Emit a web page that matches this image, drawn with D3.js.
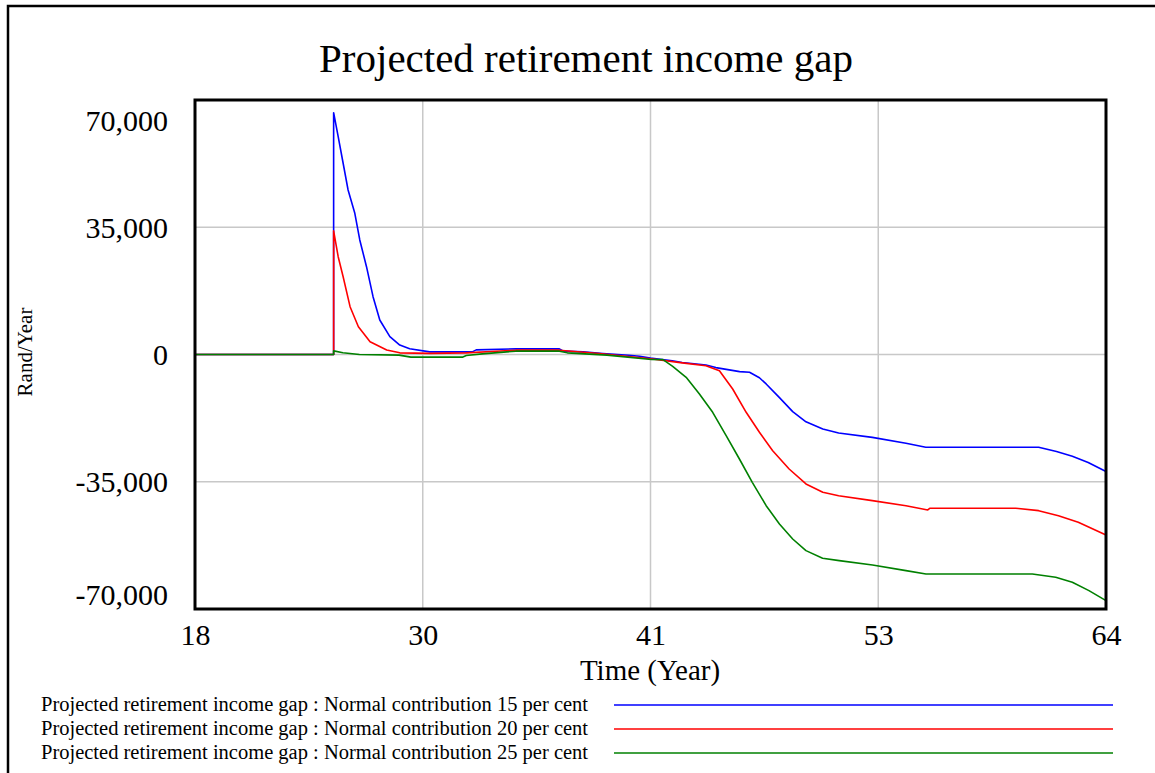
<!DOCTYPE html>
<html>
<head>
<meta charset="utf-8">
<script src="https://cdn.jsdelivr.net/npm/d3@7"></script>
<style>
  html, body { margin: 0; padding: 0; background: #fff; }
  svg { display: block; }
  text { font-family: "Liberation Serif", "Times New Roman", serif; fill: #000; }
</style>
</head>
<body>
<svg id="chart" width="1155" height="773"></svg>
<script>
// Projected retirement income gap, Rand/Year, by age (Time in years)

const seriesNames = [
  "Projected retirement income gap : Normal contribution 15 per cent",
  "Projected retirement income gap : Normal contribution 20 per cent",
  "Projected retirement income gap : Normal contribution 25 per cent"
];
const seriesColors = ["#0000ff", "#ff0000", "#008000"];

const time15 = [18, 25, 25, 25.23, 25.48, 25.73, 26.07, 26.32, 26.66, 26.99, 27.33, 27.84, 28.34, 28.84, 29.85, 32.0, 32.2, 34.2, 36.4, 36.6, 37.6, 38.6, 39.9, 40.45, 41.0, 42.1, 42.6, 43.8, 44.3, 45.5, 46.0, 46.5, 46.84, 47.5, 48.18, 48.85, 49.7, 50.5, 52.2, 53.9, 54.9, 60.6, 61.5, 62.3, 63.1, 64];
const gap15  = [0, 0, 66500, 59900, 52600, 45250, 38840, 31500, 24150, 15900, 9490, 4900, 2600, 1560, 730, 730, 1280, 1560, 1560, 915, 730, 275, -190, -500, -1000, -1700, -2200, -2900, -3600, -4700, -4900, -6400, -8100, -11800, -15700, -18500, -20500, -21600, -22800, -24400, -25500, -25500, -26700, -28000, -29700, -32200];

const time20 = [18, 25, 25, 25.23, 25.48, 25.83, 26.25, 26.84, 27.68, 28.34, 29.85, 31.7, 34.2, 36.4, 38.4, 41.0, 42.6, 43.8, 44.48, 45.15, 45.83, 46.5, 47.17, 48.0, 48.85, 49.7, 50.5, 52.2, 53.9, 55.0, 55.1, 59.45, 60.6, 61.6, 62.6, 64];
const gap20  = [0, 0, 34000, 26900, 21400, 13150, 7650, 3520, 1240, 460, 300, 460, 1190, 1190, 275, -1190, -2300, -3100, -4450, -9490, -15900, -21400, -26450, -31490, -35610, -37900, -38830, -40200, -41580, -42760, -42300, -42300, -42950, -44330, -46150, -49640];

const time25 = [18, 25, 25, 25.47, 26.3, 28.3, 28.9, 31.5, 31.7, 32.5, 34.2, 36.4, 36.8, 38.8, 41.05, 41.63, 42.12, 42.8, 43.47, 44.14, 44.82, 45.49, 46.14, 46.84, 47.51, 48.18, 48.85, 49.69, 50.53, 52.21, 53.9, 54.91, 60.28, 61.46, 62.3, 63.14, 64];
const gap25  = [0, 0, 1000, 500, 0, -180, -730, -730, -275, 180, 915, 915, 460, -180, -1370, -1420, -3250, -6270, -10860, -15900, -22320, -28740, -35150, -41580, -46610, -50740, -53950, -56050, -56700, -57890, -59450, -60360, -60360, -61270, -62650, -64950, -67700];

const xTickValues = [18, 29.5, 41, 52.5, 64];
const xTickLabels = ["18", "30", "41", "53", "64"];
const yTickValues = [70000, 35000, 0, -35000, -70000];
const yTickLabels = ["70,000", "35,000", "0", "-35,000", "-70,000"];

const series = [
  { name: seriesNames[0], color: seriesColors[0], t: time15, v: gap15 },
  { name: seriesNames[1], color: seriesColors[1], t: time20, v: gap20 },
  { name: seriesNames[2], color: seriesColors[2], t: time25, v: gap25 }
];

const svg = d3.select("#chart");

// Outer frame (left and top edges visible)
svg.append("path")
  .attr("d", "M8,780 L8,6 L1160,6")
  .attr("fill", "none").attr("stroke", "#000").attr("stroke-width", 2.5);

const plot = { left: 195, right: 1106, top: 100, bottom: 609 };

const x = d3.scaleLinear().domain([18, 64]).range([plot.left, plot.right]);
const y = d3.scaleLinear().domain([-70000, 70000]).range([plot.bottom, plot.top]);

// Title
svg.append("text")
  .attr("x", 586).attr("y", 72)
  .attr("text-anchor", "middle")
  .style("font-size", "41px")
  .text("Projected retirement income gap");

// Grid
const grid = svg.append("g").attr("stroke", "#c8c8c8").attr("stroke-width", 1.5);
grid.selectAll("line.v").data(xTickValues.slice(1, -1)).join("line")
  .attr("x1", d => x(d)).attr("x2", d => x(d))
  .attr("y1", plot.top).attr("y2", plot.bottom);
grid.selectAll("line.h").data(yTickValues.slice(1, -1)).join("line")
  .attr("y1", d => y(d)).attr("y2", d => y(d))
  .attr("x1", plot.left).attr("x2", plot.right);

// Series lines
const line = d3.line().x(d => x(d[0])).y(d => y(d[1]));
svg.append("g").selectAll("path").data(series).join("path")
  .attr("d", s => line(s.t.map((t, i) => [t, s.v[i]])))
  .attr("fill", "none")
  .attr("stroke", s => s.color)
  .attr("stroke-width", 1.6)
  .attr("stroke-linejoin", "round");

// Plot frame
svg.append("rect")
  .attr("x", plot.left).attr("y", plot.top)
  .attr("width", plot.right - plot.left).attr("height", plot.bottom - plot.top)
  .attr("fill", "none").attr("stroke", "#000").attr("stroke-width", 3);

// Y axis labels (end labels pulled inside the plot span)
const yAxis = d3.axisLeft(y).tickValues(yTickValues)
  .tickFormat((d, i) => yTickLabels[i]).tickSize(0).tickPadding(0);
const gy = svg.append("g").attr("transform", `translate(168,0)`).call(yAxis);
gy.select(".domain").remove();
gy.selectAll("text")
  .style("font-size", "30px")
  .attr("font-family", null)
  .attr("dy", d => d === 70000 ? "1.0em" : d === -70000 ? "-0.15em" : "0.33em");

// X axis labels
const xAxis = d3.axisBottom(x).tickValues(xTickValues)
  .tickFormat((d, i) => xTickLabels[i]).tickSize(0).tickPadding(0);
const gx = svg.append("g").attr("transform", `translate(0,${plot.bottom})`).call(xAxis);
gx.select(".domain").remove();
gx.selectAll("text")
  .style("font-size", "30px")
  .attr("font-family", null)
  .attr("y", 36).attr("dy", 0);

// Axis titles
svg.append("text")
  .attr("x", 650).attr("y", 680)
  .attr("text-anchor", "middle")
  .style("font-size", "29px")
  .text("Time (Year)");

svg.append("text")
  .attr("transform", "translate(32,352) rotate(-90)")
  .attr("text-anchor", "middle")
  .style("font-size", "21px")
  .text("Rand/Year");

// Legend
const legend = svg.append("g").selectAll("g").data(series).join("g")
  .attr("transform", (s, i) => `translate(0,${705 + i * 24})`);
legend.append("text")
  .attr("x", 41).attr("y", 6)
  .style("font-size", "20.5px")
  .text(s => s.name);
legend.append("line")
  .attr("x1", 614).attr("x2", 1113)
  .attr("y1", 0).attr("y2", 0)
  .attr("stroke", s => s.color).attr("stroke-width", 1.6);
</script>
</body>
</html>
